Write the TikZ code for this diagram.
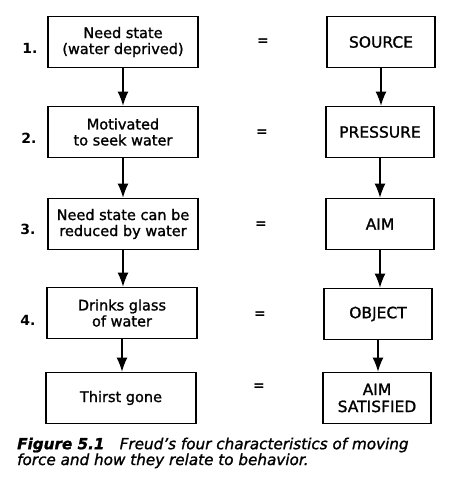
\documentclass[tikz,border=0pt]{standalone}
\usepackage{fontspec}
\setmainfont{DejaVu Sans}
\newfontfamily\boxfont{DejaVu Sans}[FakeBold=1.3,Ligatures=TeX]
\usepackage{tikz}
\usetikzlibrary{arrows.meta, positioning}

\begin{document}
\begin{tikzpicture}[x=1pt,y=-1pt,
    stato/.style={rectangle,draw=black,line width=1.6pt,minimum width=150pt,minimum height=51pt,align=center,font=\boxfont\fontsize{14.5}{16}\selectfont},
    freud/.style={rectangle,draw=black,line width=1.6pt,minimum width=108pt,minimum height=51pt,align=center,font=\boxfont\fontsize{15.5}{17}\selectfont},
    freccia/.style={-{Latex[length=14pt,width=11pt]},line width=1.4pt},
    numero/.style={font=\bfseries\fontsize{14}{16}\selectfont},
    uguale/.style={font=\bfseries\fontsize{14}{16}\selectfont}]
    \useasboundingbox (0,0) rectangle (463,499);

    % Colonna di sinistra
    \node[stato] (need) at (123,42) {Need state\\(water deprived)};
    \node[stato] (motivated) at (123,132) {Motivated\\to seek water};
    \node[stato] (reduce) at (123,224) {Need state can be\\reduced by water};
    \node[stato] (drinks) at (122,313) {Drinks glass\\of water};
    \node[stato] (thirst) at (121,398) {Thirst gone};

    \draw[freccia] (need.south) -- (need.south |- motivated.north);
    \draw[freccia] (motivated.south) -- (motivated.south |- reduce.north);
    \draw[freccia] (reduce.south) -- (reduce.south |- drinks.north);
    \draw[freccia] (drinks.south) -- (drinks.south |- thirst.north);

    % Numeri
    \node[numero] (n1) at (30,48) {1.};
    \node[numero] (n2) at (29,138) {2.};
    \node[numero] (n3) at (28,229) {3.};
    \node[numero] (n4) at (28,320) {4.};

    % Uguale
    \node[uguale] (eq1) at (263,42) {=};
    \node[uguale] (eq2) at (262,133) {=};
    \node[uguale] (eq3) at (261,225) {=};
    \node[uguale] (eq4) at (260,315) {=};
    \node[uguale] (eq5) at (259,387) {=};

    % Colonna di destra
    \node[freud] (source) at (381,42) {SOURCE};
    \node[freud] (pressure) at (380,132) {PRESSURE};
    \node[freud] (aim) at (380,224) {AIM};
    \node[freud] (object) at (378,314) {OBJECT};
    \node[freud] (satisfied) at (377,398) {AIM\\SATISFIED};

    \draw[freccia] (source.south) -- (source.south |- pressure.north);
    \draw[freccia] (pressure.south) -- (pressure.south |- aim.north);
    \draw[freccia] (aim.south) -- (aim.south |- object.north);
    \draw[freccia] (object.south) -- (object.south |- satisfied.north);

    % Didascalia
    \node[anchor=base west,inner sep=0pt,align=left,font=\boxfont\itshape\fontsize{15.2}{14.5}\selectfont] (caption) at (17,465)
        {\textbf{Figure 5.1}\quad Freud’s four characteristics of moving\\force and how they relate to behavior.};
\end{tikzpicture}
\end{document}
